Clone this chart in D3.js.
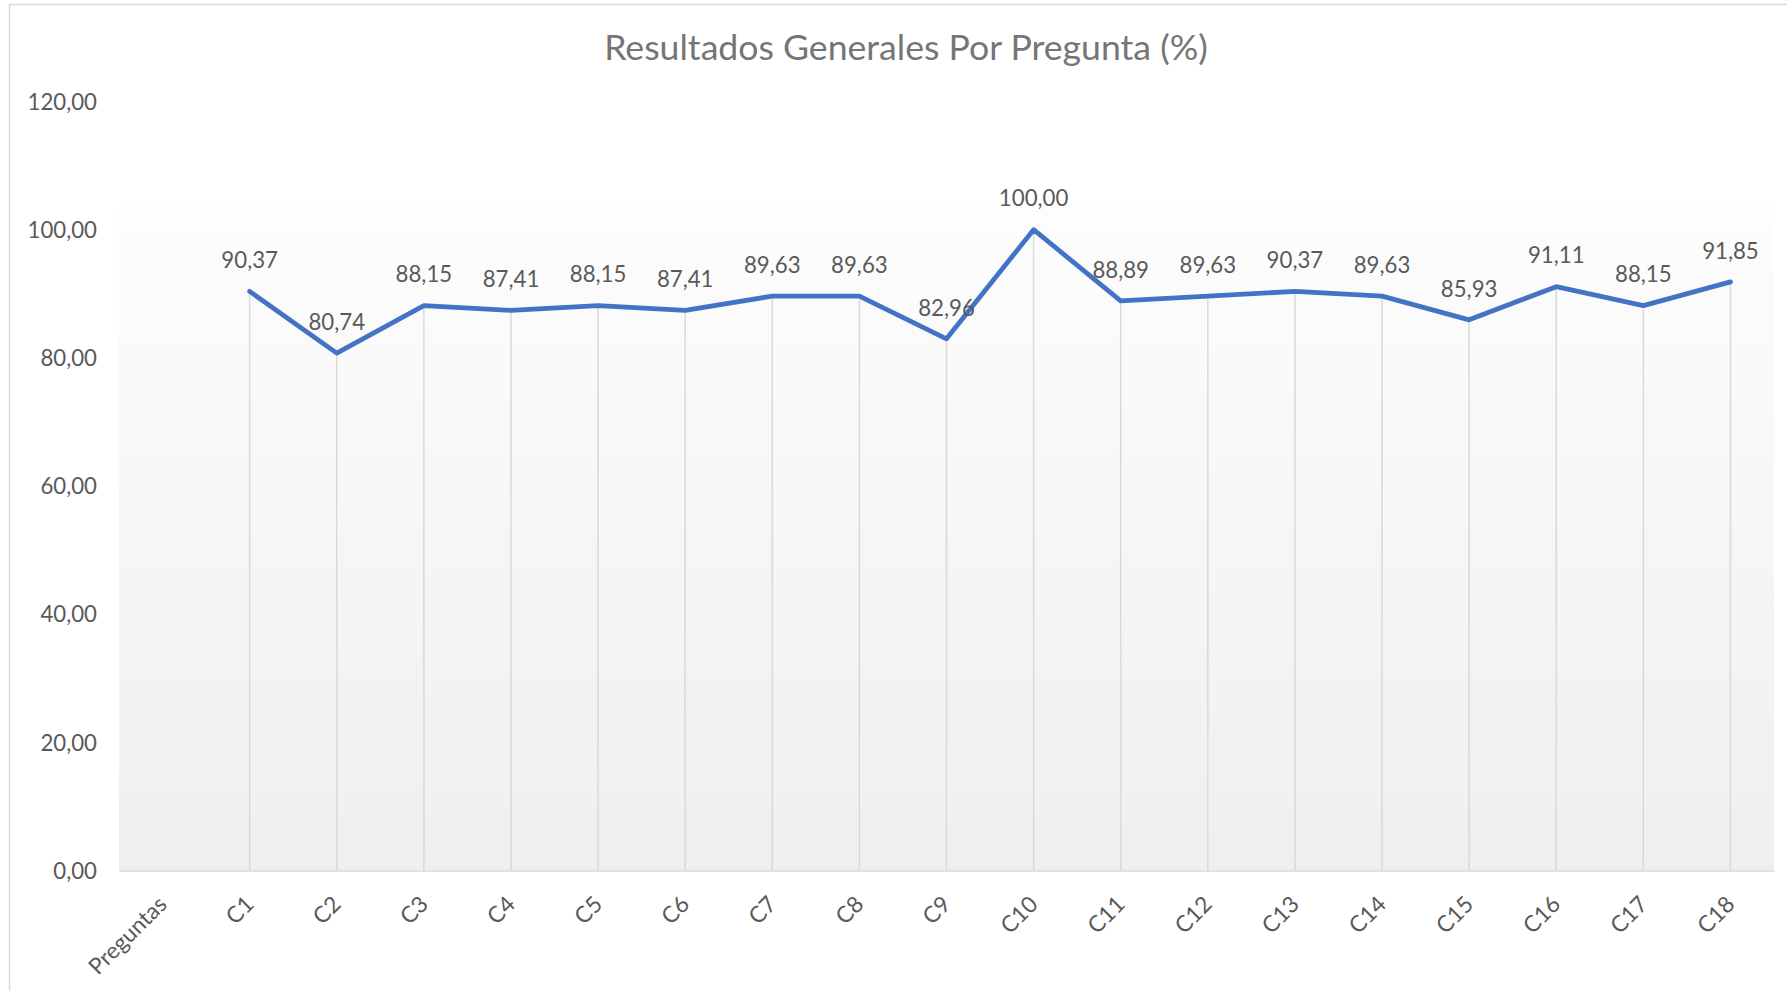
<!DOCTYPE html>
<html>
<head>
<meta charset="utf-8">
<script src="https://cdn.jsdelivr.net/npm/d3@7"></script>
<style>
  html, body { margin: 0; padding: 0; background: #ffffff; }
  svg { display: block; }
</style>
</head>
<body>
<svg id="chart" width="1787" height="991"></svg>
<script>
// Chart data
const title = "Resultados Generales Por Pregunta (%)";
const categories = ["Preguntas", "C1", "C2", "C3", "C4", "C5", "C6", "C7", "C8", "C9",
                    "C10", "C11", "C12", "C13", "C14", "C15", "C16", "C17", "C18"];
const values = [null, 90.37, 80.74, 88.15, 87.41, 88.15, 87.41, 89.63, 89.63, 82.96,
                100.00, 88.89, 89.63, 90.37, 89.63, 85.93, 91.11, 88.15, 91.85];
const yTicks = [0, 20, 40, 60, 80, 100, 120];

// Layout
const W = 1787, H = 991;
const plot = { left: 119, right: 1774, top: 101.5, bottom: 870.5, fillTop: 203 };
const FONT = "Lato, 'Open Sans', 'Liberation Sans', sans-serif";
const TEXT = "#595959";

const locale = d3.formatLocale({ decimal: ",", thousands: ".", grouping: [3], currency: ["", ""] });
const fmt = locale.format(".2f");

const svg = d3.select("#chart");

// pick a font size so that a sample string spans the given width
function fitSize(sample, width) {
  const t = svg.append("text").attr("font-family", FONT).attr("font-size", 100).text(sample);
  const w = t.node().getComputedTextLength();
  t.remove();
  return 100 * width / w;
}
const labelSize = fitSize("120,00", 69.5);
const titleSize = fitSize(title, 604);
const catSize = labelSize * 1.02;

// Chart frame
svg.append("rect")
  .attr("x", 9.5).attr("y", 4.5)
  .attr("width", W + 20).attr("height", H + 20)
  .attr("fill", "#ffffff").attr("stroke", "#d9d9d9").attr("stroke-width", 1.5);

// Plot area fill
const defs = svg.append("defs");
const grad = defs.append("linearGradient").attr("id", "plotFill")
  .attr("x1", 0).attr("y1", 0).attr("x2", 0).attr("y2", 1);
grad.append("stop").attr("offset", "0%").attr("stop-color", "#fdfdfd");
grad.append("stop").attr("offset", "100%").attr("stop-color", "#efefef");

svg.append("rect")
  .attr("x", plot.left).attr("y", plot.fillTop)
  .attr("width", plot.right - plot.left).attr("height", plot.bottom - plot.fillTop)
  .attr("fill", "url(#plotFill)");

// Scales
const x = d3.scaleBand().domain(categories).range([plot.left, plot.right]).padding(0);
const cx = c => x(c) + x.bandwidth() / 2;
const y = d3.scaleLinear().domain([0, 120]).range([plot.bottom, plot.top]);

const points = categories.map((c, i) => ({ c, v: values[i] })).filter(d => d.v !== null);

// Drop lines from each point down to the category axis
svg.append("g").selectAll("line").data(points).join("line")
  .attr("x1", d => cx(d.c)).attr("x2", d => cx(d.c))
  .attr("y1", d => y(d.v)).attr("y2", y(0))
  .attr("stroke", "#d9d9d9").attr("stroke-width", 1.5);

// Y axis (labels only)
const yAxis = svg.append("g")
  .attr("transform", "translate(97,0)")
  .call(d3.axisLeft(y).tickValues(yTicks).tickSize(0).tickPadding(0).tickFormat(fmt));
yAxis.select(".domain").remove();
yAxis.selectAll("text")
  .attr("font-family", FONT).attr("font-size", labelSize).attr("fill", TEXT)
  .attr("dy", "0.35em");

// X axis
const xAxis = svg.append("g")
  .attr("transform", `translate(0,${plot.bottom})`)
  .call(d3.axisBottom(x).tickSize(0).tickSizeOuter(0));
xAxis.select(".domain").attr("stroke", "#d9d9d9").attr("stroke-width", 1.5);
xAxis.selectAll("text")
  .attr("font-family", FONT).attr("font-size", catSize).attr("fill", TEXT)
  .attr("text-anchor", "end")
  .attr("x", -21).attr("y", 21).attr("dy", "0.35em")
  .attr("transform", "rotate(-45)");

// Series line
const line = d3.line().x(d => cx(d.c)).y(d => y(d.v));
svg.append("path").datum(points)
  .attr("d", line)
  .attr("fill", "none").attr("stroke", "#4472c4").attr("stroke-width", 4.8)
  .attr("stroke-linejoin", "round").attr("stroke-linecap", "round");

// Data labels
svg.append("g").selectAll("text").data(points).join("text")
  .attr("x", d => cx(d.c)).attr("y", d => y(d.v) - 31)
  .attr("dy", "0.35em")
  .attr("text-anchor", "middle")
  .attr("font-family", FONT).attr("font-size", labelSize).attr("fill", TEXT)
  .text(d => fmt(d.v));

// Title
svg.append("text")
  .attr("x", 906).attr("y", 48).attr("dy", "0.35em")
  .attr("text-anchor", "middle")
  .attr("font-family", FONT).attr("font-size", titleSize).attr("fill", "#757575")
  .text(title);
</script>
</body>
</html>
